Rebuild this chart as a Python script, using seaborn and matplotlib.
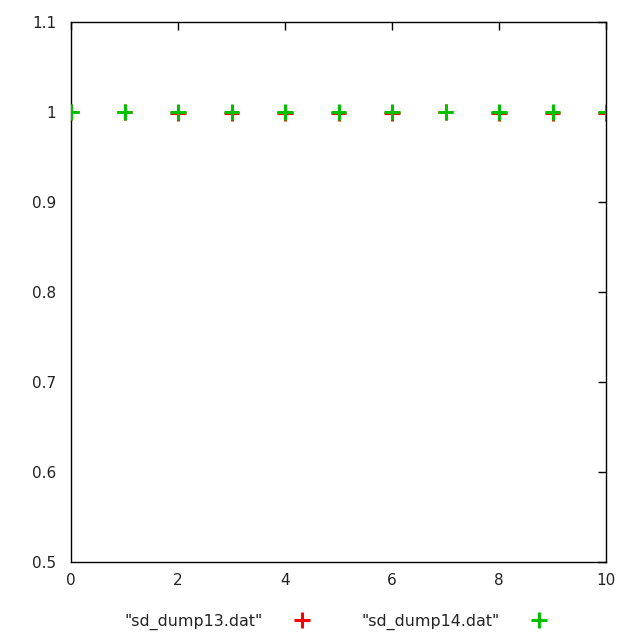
import matplotlib
matplotlib.use("Agg")
import matplotlib.pyplot as plt
import seaborn as sns
import pandas as pd
from matplotlib.lines import Line2D

x_vals = [0, 1, 2, 3, 4, 5, 6, 7, 8, 9, 10]
dump13 = [1.0, 1.0, 0.9989, 0.9989, 0.9989, 0.9989, 0.9989, 1.0, 0.9989, 0.9989, 0.9989]
dump14 = [1.0, 1.0, 1.0, 1.0, 1.0, 1.0, 1.0, 1.0, 1.0, 1.0, 1.0]
series_names = ['"sd_dump13.dat"', '"sd_dump14.dat"']
series_colors = ["#ff0000", "#00c000"]
y_ticks = [0.5, 0.6, 0.7, 0.8, 0.9, 1.0, 1.1]
y_tick_labels = ["0.5", "0.6", "0.7", "0.8", "0.9", "1", "1.1"]
x_ticks = [0, 2, 4, 6, 8, 10]

df = pd.concat([
    pd.DataFrame({"x": x_vals, "y": dump13, "series": series_names[0]}),
    pd.DataFrame({"x": x_vals, "y": dump14, "series": series_names[1]}),
])

sns.set_style("white")
plt.rcParams["font.family"] = ["DejaVu Sans"]

fig = plt.figure(figsize=(6.4, 6.4), dpi=100)
ax = fig.add_axes([71/640, 1-562/640, (606-71)/640, (562-22)/640])

sns.scatterplot(data=df, x="x", y="y", hue="series", palette=series_colors,
                marker="+", s=130, linewidth=2.2, ax=ax, legend=False, zorder=3)

ax.set_xlim(0, 10)
ax.set_ylim(0.5, 1.1)
ax.set_xticks(x_ticks)
ax.set_xticklabels([str(v) for v in x_ticks])
ax.set_yticks(y_ticks)
ax.set_yticklabels(y_tick_labels)
ax.set_xlabel("")
ax.set_ylabel("")
ax.tick_params(direction="in", length=6, width=1, top=True, right=True,
               labelsize=11, colors="black", labelcolor="#222222")
ax.tick_params(axis="y", pad=10.5)
ax.tick_params(axis="x", pad=8)
for sp in ax.spines.values():
    sp.set_visible(True)
    sp.set_color("black")
    sp.set_linewidth(1)

fs = 11.4
marker_centers = [302, 539]
for name, color, mx in zip(series_names, series_colors, marker_centers):
    h = Line2D([], [], linestyle="", marker="+", markersize=11, markeredgewidth=2.2, color=color)
    right_edge = (mx + 7.9) / 640
    leg = fig.legend([h], [name], loc="center right",
                     bbox_to_anchor=(right_edge, 1 - 622/640),
                     markerfirst=False, frameon=False, fontsize=fs,
                     borderpad=0, borderaxespad=0, handlelength=1.0,
                     handletextpad=1.98)
    for t in leg.get_texts():
        t.set_color("#222222")

fig.savefig("out.png", dpi=100)
